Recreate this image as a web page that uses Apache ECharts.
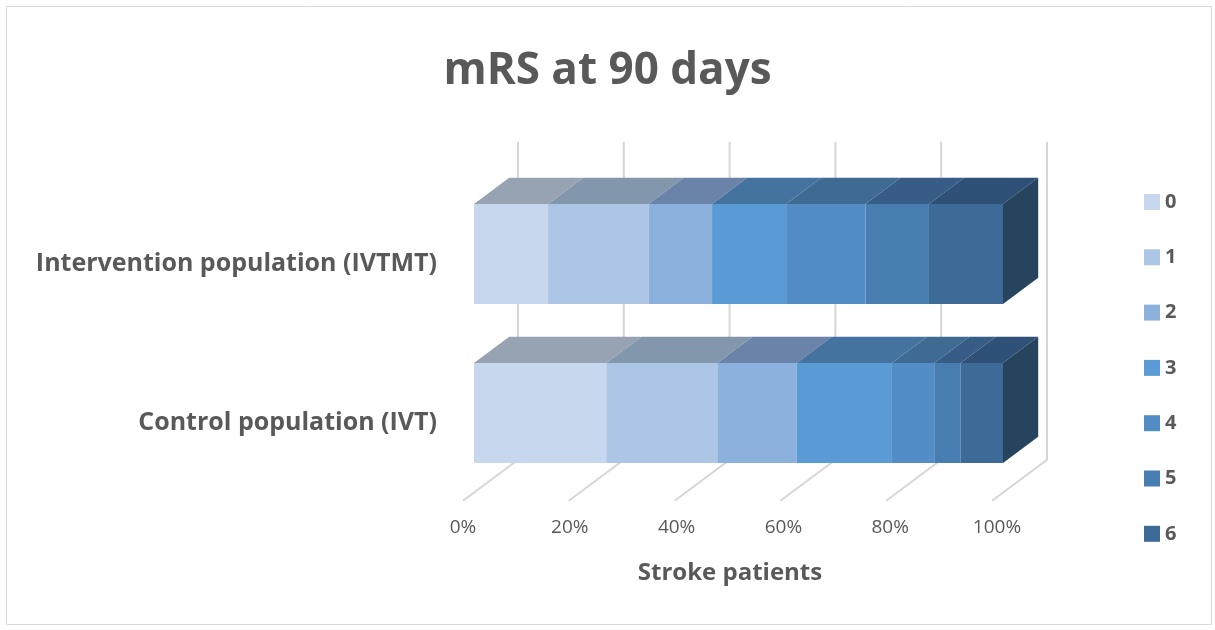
<!DOCTYPE html>
<html>
<head>
<meta charset="utf-8">
<title>mRS at 90 days</title>
<script src="https://cdn.jsdelivr.net/npm/echarts@6/dist/echarts.min.js"></script>
<style>
  html, body { margin: 0; padding: 0; background: #fff; }
  #main { width: 1215px; height: 630px; }
</style>
</head>
<body>
<div id="main"></div>
<script>
  // 数据
  var categories = ['Control population (IVT)', 'Intervention population (IVTMT)'];
  var grades = ['0', '1', '2', '3', '4', '5', '6'];
  var control = [25, 21, 15, 18, 8, 5, 8];
  var intervention = [14, 19, 12, 14, 15, 12, 14];
  var xTicks = [0, 20, 40, 60, 80, 100];

  // 正面 / 顶面颜色
  var frontColors = ['#C7D7ED', '#AEC6E5', '#8DB1DD', '#5B9BD5', '#538DC5', '#487DB1', '#3D6A96'];
  var topColors = ['#97A3B3', '#8397AC', '#6C83A9', '#44739F', '#3F6B93', '#375D86', '#2F5177'];
  var sideColor = '#27445F';
  var textColor = '#595959';
  var font = 'Open Sans';

  // 进深方向
  var depth = [55, -41];
  var frontFrac = 0.2, barFrac = 0.64, backFrac = 0.8;

  var rows = [control, intervention];

  function gridItem(params, api) {
    var cs = params.coordSys;
    var x = api.coord([api.value(0), 0])[0];
    var bottom = cs.y + cs.height;
    var pts = [
      [x - depth[0] * frontFrac, bottom - depth[1] * frontFrac],
      [x + depth[0] * backFrac, bottom + depth[1] * backFrac],
      [x + depth[0] * backFrac, cs.y + depth[1] * backFrac]
    ];
    return {
      type: 'polyline',
      shape: { points: pts },
      style: { stroke: '#D6D6D6', lineWidth: 2, fill: null }
    };
  }

  function makeBoxItem(g) {
    return function (params, api) {
      var s = api.coord([api.value(0), api.value(2)]);
      var e = api.coord([api.value(1), api.value(2)]);
      var h = api.size([0, 1])[1] * 0.63;
      var top = s[1] - h / 2, bot = s[1] + h / 2;
      var dx = depth[0] * barFrac, dy = depth[1] * barFrac;
      var children = [
        {
          type: 'rect',
          shape: { x: s[0], y: top, width: e[0] - s[0], height: h },
          style: { fill: frontColors[g] }
        },
        {
          type: 'polygon',
          shape: { points: [[s[0], top], [e[0], top], [e[0] + dx, top + dy], [s[0] + dx, top + dy]] },
          style: { fill: topColors[g] }
        }
      ];
      if (g === grades.length - 1) {
        children.push({
          type: 'polygon',
          shape: { points: [[e[0], top], [e[0] + dx, top + dy], [e[0] + dx, bot + dy], [e[0], bot]] },
          style: { fill: sideColor }
        });
      }
      return { type: 'group', children: children };
    };
  }

  var series = [{
    type: 'custom',
    name: 'grid',
    xAxisIndex: 0,
    yAxisIndex: 0,
    z: 1,
    silent: true,
    data: xTicks.map(function (v) { return [v]; }),
    renderItem: gridItem
  }];

  grades.forEach(function (name, g) {
    var data = rows.map(function (row, ci) {
      var start = 0;
      for (var i = 0; i < g; i++) start += row[i];
      return [start, start + row[g], ci];
    });
    series.push({
      type: 'custom',
      name: name,
      xAxisIndex: 0,
      yAxisIndex: 0,
      z: 2,
      itemStyle: { color: frontColors[g] },
      encode: { x: [0, 1], y: 2 },
      data: data,
      renderItem: makeBoxItem(g)
    });
  });

  var option = {
    animation: false,
    title: {
      text: 'mRS at 90 days',
      left: 'center',
      top: 44,
      textStyle: { color: textColor, fontSize: 44, fontWeight: 'bold', fontFamily: font }
    },
    legend: {
      orient: 'vertical',
      left: 1144,
      top: 192,
      padding: 0,
      itemWidth: 16,
      itemHeight: 16,
      itemGap: 35.3,
      icon: 'rect',
      data: grades,
      textStyle: { color: textColor, fontSize: 20, fontWeight: 'bold', fontFamily: font, lineHeight: 20 }
    },
    graphic: [{
      type: 'rect',
      shape: { x: 6.5, y: 6.5, width: 1205, height: 618 },
      style: { fill: null, stroke: '#D9D9D9', lineWidth: 1 },
      silent: true
    }],
    grid: [
      { left: 474, right: 212, top: 174.5, bottom: 137.5 },
      { left: 463, right: 218, top: 400, bottom: 130 }
    ],
    xAxis: [
      { gridIndex: 0, type: 'value', min: 0, max: 100, interval: 20, show: false },
      {
        gridIndex: 1, type: 'value', min: 0, max: 100, interval: 20,
        name: 'Stroke patients',
        nameLocation: 'middle',
        nameGap: 61,
        nameTextStyle: { color: textColor, fontSize: 24, fontWeight: 'bold', fontFamily: font },
        axisLine: { show: false },
        axisTick: { show: false },
        splitLine: { show: false },
        axisLabel: { formatter: '{value}%', color: textColor, fontSize: 19, fontFamily: font, margin: 18 }
      }
    ],
    yAxis: [
      {
        gridIndex: 0, type: 'category', data: categories,
        axisLine: { show: false },
        axisTick: { show: false },
        axisLabel: {
          color: textColor, fontSize: 25, fontWeight: 'bold', fontFamily: font,
          margin: 37, verticalAlign: 'top', lineHeight: 20
        }
      },
      { gridIndex: 1, type: 'value', show: false }
    ],
    series: series
  };

  var myChart = echarts.init(document.getElementById('main'));
  myChart.setOption(option);
</script>
</body>
</html>
